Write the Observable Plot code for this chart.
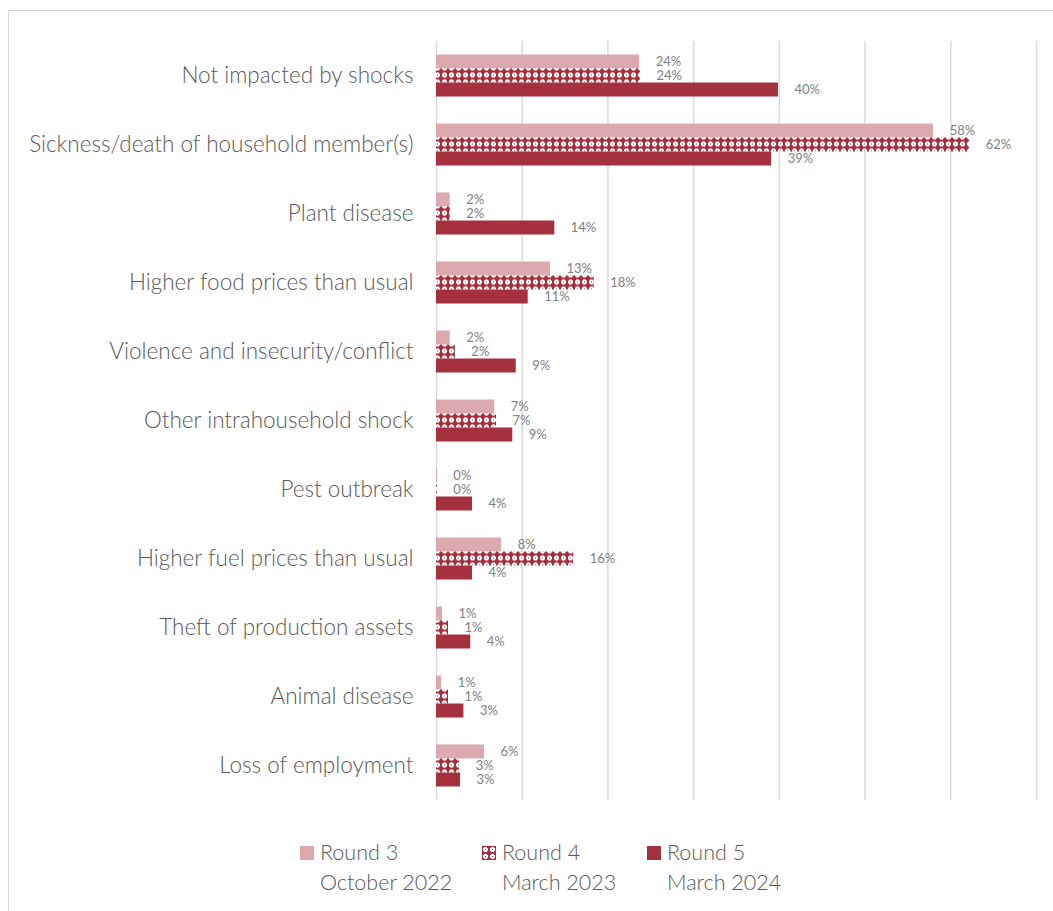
<!DOCTYPE html>
<html>
<head>
<meta charset="utf-8">
<script src="https://cdn.jsdelivr.net/npm/d3@7"></script>
<script src="https://cdn.jsdelivr.net/npm/@observablehq/plot@0.6"></script>
<style>
  html, body { margin: 0; padding: 0; background: #fff; }
  #wrap { position: relative; width: 1053px; height: 911px; overflow: hidden; font-family: Lato, "Open Sans", sans-serif; font-weight: 300; }
  #frame { position: absolute; left: 8px; top: 10px; width: 1100px; height: 960px; border: 1.5px solid #d9d9d9; box-sizing: border-box; }
  #chart { position: absolute; left: 0; top: 0; }
  .leg { position: absolute; top: 837px; color: #595959; font-size: 21.5px; line-height: 30px; }
  .leg .sw { position: absolute; left: -20px; top: 9px; width: 14px; height: 14px; }
</style>
</head>
<body>
<div id="wrap">
  <div id="frame"></div>
  <div id="chart"></div>
  <div id="legend"></div>
</div>
<script>
const categories = [
  "Not impacted by shocks",
  "Sickness/death of household member(s)",
  "Plant disease",
  "Higher food prices than usual",
  "Violence and insecurity/conflict",
  "Other intrahousehold shock",
  "Pest outbreak",
  "Higher fuel prices than usual",
  "Theft of production assets",
  "Animal disease",
  "Loss of employment"
];
const seriesNames = ["Round 3", "Round 4", "Round 5"];
const seriesDates = ["October 2022", "March 2023", "March 2024"];
const round3 = [23.7, 58.0, 1.6, 13.3, 1.6, 6.8, 0.1, 7.6, 0.7, 0.6, 5.6];
const round4 = [23.8, 62.2, 1.6, 18.4, 2.2, 7.0, 0.1, 16.0, 1.4, 1.4, 2.7];
const round5 = [39.9, 39.1, 13.8, 10.7, 9.3, 8.9, 4.2, 4.2, 4.0, 3.2, 2.8];
const gridTicks = [0, 10, 20, 30, 40, 50, 60, 70];

const seriesValues = [round3, round4, round5];
const rows = [];
categories.forEach((c, i) => {
  seriesNames.forEach((s, j) => rows.push({category: c, series: s, value: seriesValues[j][i]}));
});

const dark = "#a5313f", light = "#dba9ae";
const patternDef = (id) => `<pattern id="${id}" width="7" height="7" patternUnits="userSpaceOnUse">
  <rect width="7" height="7" fill="${dark}"/>
  <rect x="1" y="2" width="5" height="3" fill="#fff"/>
  <rect x="2" y="1" width="3" height="5" fill="#fff"/>
  <rect x="3" y="3" width="1" height="1" fill="${dark}"/>
</pattern>`;

const chart = Plot.plot({
  width: 1053,
  height: 811,
  marginLeft: 436,
  marginRight: 17,
  marginTop: 39.5,
  marginBottom: 10.5,
  style: {fontFamily: "Lato, 'Open Sans', sans-serif", fontWeight: 300, background: "transparent", overflow: "visible"},
  x: {domain: [0, 70], axis: null},
  y: {domain: seriesNames, paddingInner: 0, paddingOuter: 0.9, axis: null},
  fy: {domain: categories, padding: 0, label: null},
  color: {domain: seriesNames, range: [light, "url(#r4pattern)", dark]},
  marks: [
    Plot.ruleX(gridTicks, {stroke: "#d9d9d9", strokeWidth: 1.5}),
    Plot.barX(rows, {x: "value", y: "series", fy: "category", fill: "series"}),
    Plot.text(rows, {x: "value", y: "series", fy: "category", text: d => `${Math.round(d.value)}%`, dx: 16, textAnchor: "start", fill: "#7f7f7f", fontSize: 13, fontWeight: 400}),
    Plot.axisFy({anchor: "left", tickSize: 0, tickPadding: 23, fontSize: 22.5, label: null, color: "#595959"})
  ]
});
d3.select(chart).insert("defs", ":first-child").html(patternDef("r4pattern"));
document.getElementById("chart").appendChild(chart);

const legendX = [320, 502, 667];
const legend = document.getElementById("legend");
seriesNames.forEach((s, j) => {
  const d = document.createElement("div");
  d.className = "leg";
  d.style.left = legendX[j] + "px";
  const sw = j === 1
    ? `<svg class="sw" width="14" height="14"><defs>${patternDef("lgpat")}</defs><rect width="14" height="14" fill="url(#lgpat)"/></svg>`
    : `<div class="sw" style="background:${j === 0 ? light : dark}"></div>`;
  d.innerHTML = sw + `<div>${s}</div><div>${seriesDates[j]}</div>`;
  legend.appendChild(d);
});
</script>
</body>
</html>
